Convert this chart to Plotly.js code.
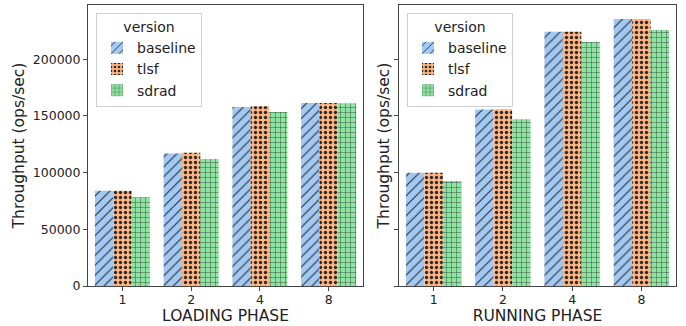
<!DOCTYPE html>
<html>
<head>
<meta charset="utf-8">
<script src="https://cdn.plot.ly/plotly-3.0.1.min.js"></script>
<style>html,body{margin:0;padding:0;background:#fff;}#chart{width:686px;height:326px;}</style>
</head>
<body>
<div id="chart"></div>
<script>
const categories = ["1", "2", "4", "8"];
const seriesNames = ["baseline", "tlsf", "sdrad"];
const loadingBaseline = [84100, 117000, 157900, 161500];
const loadingTlsf = [84100, 117600, 158500, 161500];
const loadingSdrad = [78200, 112000, 153500, 161200];
const runningBaseline = [100000, 155600, 224400, 235600];
const runningTlsf = [100000, 155900, 224400, 235600];
const runningSdrad = [92600, 147000, 215300, 225900];
const yTickVals = [0, 50000, 100000, 150000, 200000];
const yTickText = ["0", "50000", "100000", "150000", "200000"];

const colors = ["#a1c9f4", "#ffb482", "#8de5a1"];
const shapes = ["/", ".", "+"];
const sizes = [7, 5, 5];
const font = "'DejaVu Sans', sans-serif";

const loading = [loadingBaseline, loadingTlsf, loadingSdrad];
const running = [runningBaseline, runningTlsf, runningSdrad];

const traces = [];
function addSet(data, xa, ya, leg) {
  data.forEach((vals, i) => {
    traces.push({
      type: "bar", x: categories, y: vals, name: seriesNames[i],
      xaxis: xa, yaxis: ya, legend: leg,
      marker: {color: colors[i], line: {width: 0},
        pattern: {shape: shapes[i], fgcolor: "#2a2a2a", bgcolor: colors[i], fillmode: "replace",
          size: sizes[i], solidity: i === 1 ? 0.35 : 0.15}},
      hoverinfo: "x+y+name"
    });
  });
}
addSet(loading, "x", "y", "legend");
addSet(running, "x2", "y2", "legend2");

const axisCommon = {
  showline: true, mirror: true, linecolor: "#444", linewidth: 1,
  ticks: "outside", ticklen: 4, tickcolor: "#444", showgrid: false, zeroline: false,
  tickfont: {family: font, size: 12.5, color: "#222"}
};
const legendCommon = {
  bgcolor: "rgba(255,255,255,0.85)", bordercolor: "#d0d0d0", borderwidth: 1,
  font: {family: font, size: 14, color: "#222"},
  title: {text: "version", side: "top center", font: {family: font, size: 14, color: "#222"}},
  xanchor: "left", yanchor: "top", tracegroupgap: 2
};

const layout = {
  width: 686, height: 326,
  margin: {l: 88, r: 10, t: 5, b: 40},
  paper_bgcolor: "#fff", plot_bgcolor: "#fff",
  barmode: "group", bargap: 0.2, bargroupgap: 0,
  font: {family: font, color: "#222"},
  xaxis: Object.assign({}, axisCommon, {domain: [0, 0.4677], type: "category", range: [-0.5, 3.5], ticklabelstandoff: -2,
    title: {text: "LOADING PHASE", font: {family: font, size: 15.5, color: "#222"}, standoff: 0}}),
  xaxis2: Object.assign({}, axisCommon, {domain: [0.5289, 1], type: "category", range: [-0.5, 3.5], ticklabelstandoff: -2,
    title: {text: "RUNNING PHASE", font: {family: font, size: 15.5, color: "#222"}, standoff: 0}}),
  yaxis: Object.assign({}, axisCommon, {range: [0, 247900], tickvals: yTickVals, ticktext: yTickText,
    title: {text: "Throughput (ops/sec)", font: {family: font, size: 15.5, color: "#222"}, standoff: 4}}),
  yaxis2: Object.assign({}, axisCommon, {anchor: "x2", range: [0, 247900], tickvals: yTickVals, showticklabels: false,
    title: {text: "Throughput (ops/sec)", font: {family: font, size: 15.5, color: "#222"}, standoff: 0}}),
  legend: Object.assign({}, legendCommon, {x: 0.0136, y: 0.9715}),
  legend2: Object.assign({}, legendCommon, {x: 0.5425, y: 0.9715}),
  showlegend: true
};

Plotly.newPlot("chart", traces, layout, {displayModeBar: false, staticPlot: true});
</script>
</body>
</html>
